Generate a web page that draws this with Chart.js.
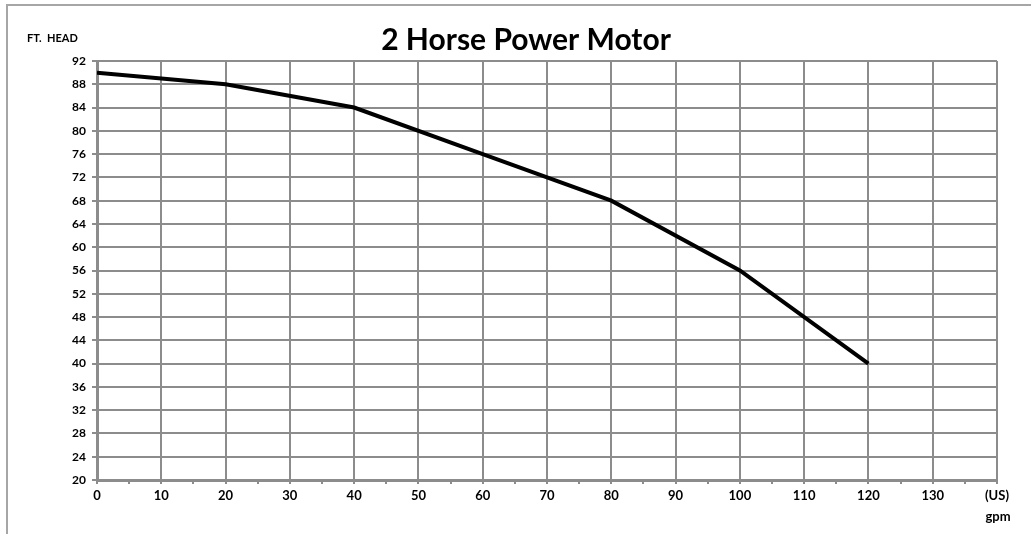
<!DOCTYPE html>
<html lang="en">
<head>
    <meta charset="UTF-8">
    <title>2 Horse Power Motor</title>
    <style>
        html, body { margin: 0; padding: 0; background: #fff; }
        #wrap { width: 1031px; height: 534px; position: relative; }
    </style>
</head>
<body>
    <div id="wrap"><canvas id="curva"></canvas></div>

<script src="https://cdn.jsdelivr.net/npm/chart.js"></script>
<script>
// dados
let vazao = [0, 20, 40, 60, 80, 100, 120];   // gpm (US)
let altura = [90, 88, 84, 76, 68, 56, 40];    // ft head
let eixoX = { min: 0, max: 140, passo: 5 };
let eixoY = { min: 20, max: 92, passo: 4 };

let pontos = [];
for (let i = 0; i < vazao.length; i++) {
    pontos.push({ x: vazao[i], y: altura[i] });
}

const cinza = '#8c8c8c';
const fonte = 'Lato, "Open Sans", sans-serif';

// moldura, título e rótulos extras
const extras = {
    id: 'extras',
    beforeDraw(chart) {
        const c = chart.ctx;
        c.save();
        c.fillStyle = '#fff';
        c.fillRect(0, 0, chart.width, chart.height);
        c.strokeStyle = '#a6a6a6';
        c.lineWidth = 2;
        c.beginPath();
        c.moveTo(7, 534);
        c.lineTo(7, 5);
        c.lineTo(1031, 5);
        c.stroke();
        c.restore();
    },
    afterDraw(chart) {
        const c = chart.ctx;
        c.save();
        c.fillStyle = '#000';
        c.textBaseline = 'middle';
        c.textAlign = 'center';
        c.font = 'bold 30px ' + fonte;
        c.fillText('2 Horse Power Motor', 526, 40);
        c.font = 'bold 11px ' + fonte;
        c.textAlign = 'left';
        c.fillText('FT.  HEAD', 27, 38);
        c.font = 'bold 13px ' + fonte;
        c.textAlign = 'center';
        c.fillText('gpm', 998, 517);
        c.restore();
    }
};

const ctx = document.getElementById('curva').getContext('2d');

new Chart(ctx, {
    type: 'line',
    data: {
        datasets: [{
            label: '2 HP',
            data: pontos,
            borderColor: '#000',
            borderWidth: 4,
            pointRadius: 0,
            tension: 0,
            fill: false
        }]
    },
    options: {
        responsive: true,
        maintainAspectRatio: false,
        animation: false,
        layout: { padding: { top: 61, right: 34, left: 0, bottom: 0 } },
        plugins: {
            legend: { display: false },
            tooltip: { enabled: false }
        },
        scales: {
            x: {
                type: 'linear',
                min: eixoX.min,
                max: eixoX.max,
                afterFit: function (s) { s.height = 54; },
                ticks: {
                    stepSize: eixoX.passo,
                    autoSkip: false,
                    maxRotation: 0,
                    color: '#000',
                    padding: 4,
                    font: { family: fonte, size: 13, weight: 'bold' },
                    callback: function (v) {
                        if (v % 10 !== 0) return '';
                        if (v === 140) return '(US)';
                        return v;
                    }
                },
                grid: {
                    color: function (c) {
                        return c.tick && c.tick.value % 10 === 0 ? cinza : 'rgba(0,0,0,0)';
                    },
                    tickColor: cinza,
                    lineWidth: 2,
                    tickLength: 4
                },
                border: { color: cinza, width: 3 }
            },
            y: {
                min: eixoY.min,
                max: eixoY.max,
                afterFit: function (s) { s.width = 97; },
                ticks: {
                    stepSize: eixoY.passo,
                    autoSkip: false,
                    color: '#000',
                    padding: 6,
                    font: { family: fonte, size: 12, weight: 'bold' }
                },
                grid: {
                    color: cinza,
                    lineWidth: 2,
                    tickLength: 5
                },
                border: { color: cinza, width: 3 }
            }
        }
    },
    plugins: [extras]
});
</script>
</body>
</html>
